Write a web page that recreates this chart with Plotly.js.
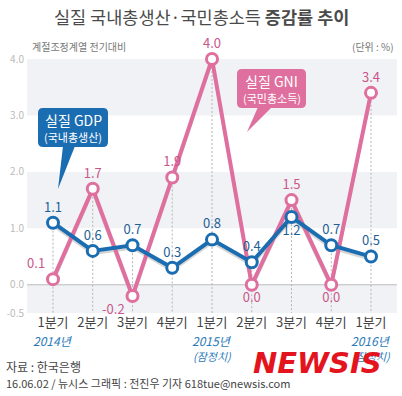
<!DOCTYPE html>
<html><head><meta charset="utf-8">
<script src="https://cdn.plot.ly/plotly-3.0.1.min.js"></script>
<style>html,body{margin:0;padding:0;background:#fff;}#chart{width:402px;height:396px;}</style>
</head><body><div id="chart"></div>
<script>
const quarters = ['1분기','2분기','3분기','4분기','1분기','2분기','3분기','4분기','1분기'];
const gdp = [1.1, 0.6, 0.7, 0.3, 0.8, 0.4, 1.2, 0.7, 0.5];
const gni = [0.1, 1.7, -0.2, 1.9, 4.0, 0.0, 1.5, 0.0, 3.4];
const yearLabels = ['2014년', '', '', '', '2015년', '', '', '', '2016년'];
const prelimLabels = ['', '', '', '', '(잠정치)', '', '', '', '(잠정치)'];
const yTicks = [-0.5, 0, 1, 2, 3, 4];

const gdpTextPos = ['top center','top center','top center','top center','top center','top center','bottom center','top center','top center'];
const gniTextPos = ['top left','top center','bottom left','top center','top center','bottom center','top center','bottom center','top center'];

const PINK = '#df6f9e', BLUE = '#1b6db1';
const FONT = 'Noto Sans CJK KR, Noto Sans, sans-serif';
const xs = quarters.map((q, i) => i);

// dashed guide lines from each point down to the axis bottom
const gx = [], gy = [];
xs.forEach(i => { gx.push(i, i, null); gy.push(Math.max(gdp[i], gni[i]), -0.5, null); });

const traces = [
  // soft shadows (on the shifted, hidden axis 'y')
  {x: xs, y: gni, yaxis: 'y', mode: 'lines', line: {color: '#d6d6d6', width: 2.5}, hoverinfo: 'skip', showlegend: false},
  {x: xs, y: gdp, yaxis: 'y', mode: 'lines', line: {color: '#d6d6d6', width: 2.5}, hoverinfo: 'skip', showlegend: false},
  {x: gx, y: gy, yaxis: 'y2', mode: 'lines', line: {color: '#b5b5b5', width: 1, dash: '2px,2px'}, hoverinfo: 'skip', showlegend: false},
  {x: xs, y: gni, yaxis: 'y2', mode: 'lines+markers+text', name: '실질 GNI',
   line: {color: PINK, width: 4}, marker: {size: 11, color: '#fff', line: {color: PINK, width: 3}},
   text: gni.map(v => v.toFixed(1)), textposition: gniTextPos,
   textfont: {family: FONT, size: 13, color: '#c9568a'}, cliponaxis: false, showlegend: false},
  {x: xs, y: gdp, yaxis: 'y2', mode: 'lines+markers+text', name: '실질 GDP',
   line: {color: BLUE, width: 4}, marker: {size: 11, color: '#fff', line: {color: BLUE, width: 3}},
   text: gdp.map(v => v.toFixed(1)), textposition: gdpTextPos,
   textfont: {family: FONT, size: 13, color: '#1d5f96'}, cliponaxis: false, showlegend: false}
];

// plot area: x 27..397 (370px), y 59..313 (254px)
function px(x){ return (x - 27) / 370; }
function py(y){ return (313 - y) / 254; }
function rrect(x0,y0,x1,y1,r){
  return `M${px(x0+r)},${py(y0)} L${px(x1-r)},${py(y0)} Q${px(x1)},${py(y0)} ${px(x1)},${py(y0+r)} L${px(x1)},${py(y1-r)} Q${px(x1)},${py(y1)} ${px(x1-r)},${py(y1)} L${px(x0+r)},${py(y1)} Q${px(x0)},${py(y1)} ${px(x0)},${py(y1-r)} L${px(x0)},${py(y0+r)} Q${px(x0)},${py(y0)} ${px(x0+r)},${py(y0)} Z`;
}
function txt(x, y, text, size, color, xanchor, family){
  return {xref: 'paper', yref: 'paper', x: px(x), y: py(y), xanchor: xanchor || 'center', yanchor: 'middle',
          text: text, showarrow: false, font: {family: family || FONT, size: size, color: color}};
}

const annotations = [];
xs.forEach(i => {
  if (yearLabels[i]) annotations.push({x: i, y: -0.5, xref: 'x', yref: 'y2', yanchor: 'middle', yshift: -27, text: '<i>' + yearLabels[i] + '</i>', showarrow: false, font: {family: FONT, size: 12, color: '#2a79b8'}});
  if (prelimLabels[i]) annotations.push({x: i, y: -0.5, xref: 'x', yref: 'y2', yanchor: 'middle', yshift: -43, text: '<i>' + prelimLabels[i] + '</i>', showarrow: false, font: {family: FONT, size: 11, color: '#2a79b8'}});
});
annotations.push(
  txt(201, 16, '실질 국내총생산·국민총소득 <b>증감률 추이</b>', 17.5, '#4a4a4a'),
  txt(30, 46, '계절조정계열 전기대비', 10, '#777', 'left'),
  txt(396, 46, '(단위 : %)', 10, '#777', 'right'),
  txt(73, 120, '실질 GDP', 14, '#fff'),
  txt(73, 137, '(국내총생산)', 11, '#fff'),
  txt(271.5, 81, '실질 GNI', 14, '#fff'),
  txt(271.5, 98, '(국민총소득)', 11, '#fff'),
  txt(317, 363, '<b><i>NEWSIS</i></b>', 29, '#e3141e', 'center', 'DejaVu Sans, sans-serif'),
  txt(4, 366, '자료 : 한국은행', 12, '#444', 'left'),
  txt(4, 383, '16.06.02 / 뉴시스 그래픽 : 전진우 기자 618tue@newsis.com', 11, '#444', 'left')
);

const shapes = [
  {type: 'rect', xref: 'paper', yref: 'y2', x0: 0, x1: 1, y0: 3, y1: 4, fillcolor: '#f1f2f5', line: {width: 0}, layer: 'below'},
  {type: 'rect', xref: 'paper', yref: 'y2', x0: 0, x1: 1, y0: 1, y1: 2, fillcolor: '#f1f2f5', line: {width: 0}, layer: 'below'},
  {type: 'rect', xref: 'paper', yref: 'y2', x0: 0, x1: 1, y0: -0.5, y1: 0, fillcolor: '#f1f2f5', line: {width: 0}, layer: 'below'},
  {type: 'line', xref: 'paper', yref: 'y2', x0: 0, x1: 1, y0: 0, y1: 0, line: {color: '#bdbdbd', width: 1}, layer: 'below'},
  {type: 'path', xref: 'paper', yref: 'paper', path: rrect(38,108,108,147,5), fillcolor: BLUE, line: {width: 0}},
  {type: 'path', xref: 'paper', yref: 'paper', path: `M${px(63)},${py(146)} L${px(58)},${py(189)} L${px(75)},${py(146)} Z`, fillcolor: BLUE, line: {width: 0}},
  {type: 'path', xref: 'paper', yref: 'paper', path: rrect(237,69,306,108,5), fillcolor: PINK, line: {width: 0}},
  {type: 'path', xref: 'paper', yref: 'paper', path: `M${px(258)},${py(107)} L${px(247)},${py(132)} L${px(272)},${py(107)} Z`, fillcolor: PINK, line: {width: 0}}
];

const d = 3 / 56.4;
const layout = {
  width: 402, height: 396,
  margin: {l: 27, r: 5, t: 59, b: 83},
  paper_bgcolor: '#fff', plot_bgcolor: '#fff',
  font: {family: FONT},
  xaxis: {range: [-0.654, 8.654], tickvals: xs, ticktext: quarters, showgrid: false, zeroline: false, showline: false,
          ticks: '', tickfont: {family: FONT, size: 13, color: '#444'}, fixedrange: true},
  yaxis: {range: [-0.5 + d, 4.0 + d], showgrid: false, zeroline: false, showticklabels: false, ticks: '', fixedrange: true},
  yaxis2: {range: [-0.5, 4.0], overlaying: 'y', side: 'left', tickvals: yTicks, ticktext: yTicks.map(v => v.toFixed(1)), showgrid: false, zeroline: false,
          ticks: '', tickfont: {family: FONT, size: 10, color: '#bbb'}, ticklabelstandoff: 2, fixedrange: true},
  shapes: shapes, annotations: annotations, showlegend: false
};
Plotly.newPlot('chart', traces, layout, {displayModeBar: false, staticPlot: true});
</script></body></html>
